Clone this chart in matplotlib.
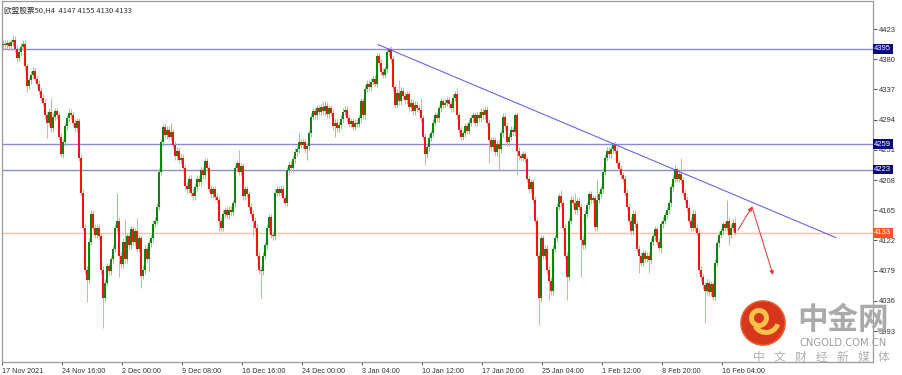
import matplotlib
matplotlib.use('Agg')
import matplotlib.pyplot as plt
from matplotlib.patches import Circle, Wedge

# ---------------- data ----------------
title_text = "欧盟股票50,H4  4147 4155 4130 4133"
first_open = 4400
closes = [
    4402, 4400, 4403, 4399, 4404, 4408, 4395, 4382, 4390, 4398,
    4402, 4370, 4342, 4350, 4358, 4364, 4352, 4345, 4335, 4325,
    4318, 4300, 4290, 4305, 4282, 4298, 4306, 4300, 4270, 4245,
    4262, 4285, 4296, 4304, 4300, 4290, 4282, 4292, 4240, 4190,
    4140, 4080, 4066, 4120, 4160, 4140, 4130, 4140, 4128, 4080,
    4040, 4062, 4085, 4078, 4095, 4110, 4140, 4150, 4100, 4088,
    4120, 4095, 4128, 4115, 4138, 4120, 4135, 4110, 4125, 4072,
    4080, 4110, 4095, 4118, 4125, 4146, 4150, 4170, 4220, 4262,
    4284, 4272, 4280, 4270, 4276, 4258, 4242, 4250, 4236, 4240,
    4225, 4200, 4195, 4210, 4190, 4185, 4198, 4210, 4205, 4222,
    4215, 4235, 4225, 4196, 4188, 4195, 4184, 4180, 4150, 4140,
    4160, 4165, 4158, 4166, 4162, 4175, 4225, 4232, 4220, 4228,
    4185, 4195, 4188, 4170, 4160, 4150, 4140, 4100, 4080, 4078,
    4100, 4115, 4140, 4155, 4130, 4128, 4190, 4195, 4190, 4196,
    4182, 4176, 4222, 4230, 4225, 4238, 4248, 4252, 4262, 4258,
    4262, 4252, 4256, 4275, 4298, 4306, 4300, 4310, 4305, 4312,
    4306, 4314, 4302, 4310, 4304, 4285, 4290, 4282, 4286, 4295,
    4305, 4308, 4296, 4288, 4292, 4284, 4290, 4288, 4296, 4320,
    4300, 4338, 4345, 4340, 4348, 4352, 4345, 4384, 4375, 4362,
    4358, 4366, 4390, 4394, 4380, 4340, 4315, 4332, 4320, 4335,
    4328, 4322, 4330, 4312, 4318, 4306, 4315, 4310, 4308, 4296,
    4270, 4245, 4255, 4268, 4275, 4290, 4300, 4296, 4310, 4320,
    4315, 4318, 4322, 4316, 4310, 4325, 4330, 4300, 4280, 4270,
    4275, 4285, 4278, 4290, 4296, 4300, 4290, 4300, 4296, 4305,
    4300, 4308, 4290, 4265, 4255, 4265, 4248, 4260, 4252, 4275,
    4298, 4285, 4262, 4270, 4280, 4276, 4300, 4250, 4242, 4240,
    4245, 4238, 4210, 4195, 4205, 4180, 4150, 4100, 4040, 4125,
    4100, 4110, 4080, 4065, 4050, 4110, 4125, 4170, 4185, 4175,
    4140, 4100, 4070, 4150, 4180, 4175, 4165, 4178, 4170, 4123,
    4115, 4160, 4172, 4188, 4180, 4182, 4141, 4180, 4188, 4195,
    4220, 4240, 4250, 4245, 4252, 4258, 4250, 4232, 4224, 4215,
    4210, 4190, 4170, 4150, 4135, 4160, 4145, 4110, 4100, 4090,
    4104, 4096, 4100, 4094, 4120, 4128, 4138, 4120, 4112, 4145,
    4150, 4158, 4165, 4175, 4198, 4210, 4224, 4210, 4216, 4208,
    4190, 4180, 4168, 4150, 4140, 4160, 4140, 4133, 4080, 4070,
    4058, 4050, 4062, 4048, 4060, 4042, 4090, 4118, 4130, 4135,
    4145, 4140, 4150, 4130, 4140, 4147, 4133,
]
notable_highs = {5: 4415, 24: 4325, 57: 4190, 61: 4152, 67: 4154, 80: 4288,
                 84: 4290, 101: 4240, 118: 4251, 148: 4275, 160: 4320,
                 161: 4320, 183: 4350, 193: 4397, 198: 4350, 209: 4325,
                 227: 4337, 241: 4313, 250: 4304, 256: 4304, 279: 4194,
                 286: 4190, 297: 4208, 305: 4262, 337: 4225, 339: 4240,
                 362: 4180, 366: 4155}
notable_lows = {7: 4376, 12: 4334, 22: 4268, 29: 4241, 42: 4034, 50: 3998,
                58: 4070, 69: 4055, 73: 4077, 108: 4135, 125: 4128, 129: 4040,
                152: 4236, 166: 4270, 211: 4229, 229: 4265, 243: 4233,
                248: 4223, 257: 4215, 268: 4002, 273: 4037, 282: 4037,
                289: 4070, 318: 4076, 323: 4076, 329: 4104, 351: 4005,
                363: 4115, 366: 4130}
wick_pad = 5

h_levels = [4395, 4259, 4223]
current_price = 4133
y_ticks = [3993, 4036, 4079, 4122, 4165, 4208, 4251, 4294, 4337, 4380, 4423]
x_tick_labels = ["17 Nov 2021", "24 Nov 16:00", "2 Dec 00:00", "9 Dec 08:00",
                 "16 Dec 16:00", "24 Dec 00:00", "3 Jan 04:00", "10 Jan 12:00",
                 "17 Jan 20:00", "25 Jan 04:00", "1 Feb 12:00", "8 Feb 20:00",
                 "16 Feb 04:00"]
bars_per_label = 30
trend_x = [187.5, 416.5]
trend_y = [4401, 4126]
forecast_x = [367.5, 374.5, 385.0]
forecast_y = [4137, 4170, 4073]
wm_big = "中金网"
wm_site = "CNGOLD.COM.CN"
wm_sub = ["中", "文", "财", "经", "新", "媒", "体"]

# ---------------- derived OHLC ----------------
opens = [first_open] + closes[:-1]
highs, lows = [], []
for i, (o, c) in enumerate(zip(opens, closes)):
    highs.append(max(notable_highs.get(i, max(o, c) + wick_pad), max(o, c)))
    lows.append(min(notable_lows.get(i, min(o, c) - wick_pad), min(o, c)))

# ---------------- figure ----------------
W, H = 903, 375
fig = plt.figure(figsize=(W / 100, H / 100), dpi=100)
ax = fig.add_axes([2 / W, (H - 362) / H, 871 / W, 361 / H])
ax.set_xlim(-0.5, 435)
ax.set_ylim(3949, 4463)

UP, DN = '#0a870a', '#ff1010'
UPW, DNW = '#8cc98c', '#ffa0a0'
xs = list(range(len(closes)))
wick_cols = [UPW if c >= o else DNW for o, c in zip(opens, closes)]
ax.vlines(xs, lows, highs, colors=wick_cols, lw=0.7, zorder=3)
body_cols = [UP if c >= o else DN for o, c in zip(opens, closes)]
heights = [max(abs(c - o), 1.2) for o, c in zip(opens, closes)]
bottoms = [min(o, c) for o, c in zip(opens, closes)]
ax.bar(xs, heights, bottom=bottoms, width=0.6, color=body_cols,
       linewidth=0, zorder=4)

for lv in h_levels:
    ax.axhline(lv, color='#8a8ad6', lw=1.0, zorder=2)
ax.axhline(current_price, color='#ffbcaa', lw=1.0, zorder=2)

ax.plot(trend_x, trend_y, color='#5c5cf2', lw=0.75, zorder=5)
for k in range(len(forecast_x) - 1):
    ax.annotate('', xy=(forecast_x[k + 1], forecast_y[k + 1]),
                xytext=(forecast_x[k], forecast_y[k]),
                arrowprops=dict(arrowstyle='-|>', color='#f03030', lw=0.7,
                                mutation_scale=6, shrinkA=0, shrinkB=0),
                zorder=6)

# axes styling
for s in ax.spines.values():
    s.set_color('#9a9a9a')
    s.set_linewidth(0.9)
ax.yaxis.tick_right()
ax.set_yticks(y_ticks)
ax.set_yticklabels([str(v) for v in y_ticks])
ax.tick_params(axis='y', labelsize=5.5, length=3, width=0.6, pad=1,
               colors='#333333', labelfontfamily='Liberation Sans')
ax.set_xticks([k * bars_per_label - 0.5 for k in range(len(x_tick_labels))])
ax.set_xticklabels(x_tick_labels, ha='left')
ax.tick_params(axis='x', labelsize=5.2, length=2.5, width=0.6, pad=1.5,
               colors='#333333', labelfontfamily='Liberation Sans')

for lv in h_levels:
    ax.text(1.0015, lv, f"{lv}", transform=ax.get_yaxis_transform(),
            ha='left', va='center', color='white', fontsize=5.5,
            family='Liberation Sans', zorder=10, clip_on=False,
            bbox=dict(boxstyle='square,pad=0.18', fc='#0a0a80', ec='none'))
ax.text(1.0015, current_price, f"{current_price}",
        transform=ax.get_yaxis_transform(), ha='left', va='center',
        color='white', fontsize=5.5, family='Liberation Sans', zorder=10,
        clip_on=False,
        bbox=dict(boxstyle='square,pad=0.18', fc='#ff5522', ec='none'))

ax.text(0.002, 0.985, title_text, transform=ax.transAxes, ha='left',
        va='top', fontsize=5.5, color='#333333',
        family=['Noto Sans CJK SC', 'DejaVu Sans'])

# ---------------- watermark ----------------
ov = fig.add_axes([0, 0, 1, 1], facecolor='none', zorder=20)
ov.set_xlim(0, W)
ov.set_ylim(H, 0)
ov.axis('off')
ov.add_patch(Circle((763, 323), 22, fc='#d8361c', ec='#e85a2a', lw=1.2))
ov.add_patch(Wedge((759, 318), 10, 0, 360, width=5, fc='#f6c446', ec='none'))
ov.add_patch(Wedge((766, 320), 15, 20, 150, width=5, fc='#f6c446', ec='none'))
ov.text(843, 320, wm_big, ha='center', va='center', fontsize=22,
        color='#aaaaaa', weight='bold', family='Noto Sans CJK SC')
ov.text(843, 343, wm_site, ha='center', va='center', fontsize=7.2,
        color='#9c9c9c', family='DejaVu Sans')
for k, ch in enumerate(wm_sub):
    ov.text(759 + k * 20.8, 357, ch, ha='center', va='center',
            fontsize=8.5, color='#b0b0b0', family='Noto Sans CJK SC')

fig.savefig('out.png', dpi=100)
